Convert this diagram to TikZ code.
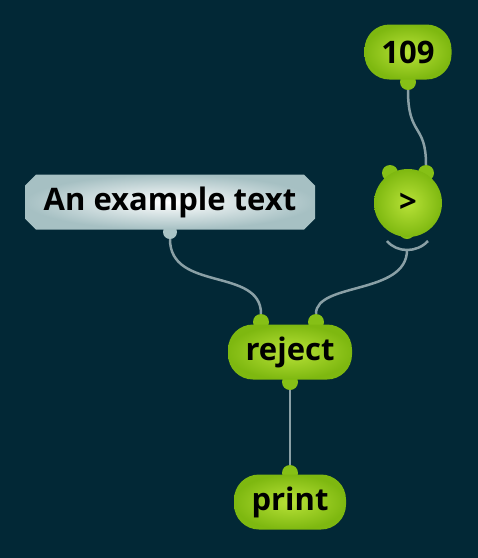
\documentclass[tikz,border=0pt]{standalone}
\usepackage{fontspec}
\setmainfont{Open Sans}
\usetikzlibrary{shapes.misc}
\definecolor{bgteal}{RGB}{2,40,54}
\definecolor{leaflo}{RGB}{126,184,16}
\definecolor{leafhi}{RGB}{184,226,56}
\definecolor{portgreen}{RGB}{134,192,22}
\definecolor{wiregray}{RGB}{138,160,166}
\definecolor{papershade}{RGB}{166,192,195}
\definecolor{portgray}{RGB}{170,196,198}
\pgfdeclarelayer{back}
\pgfdeclarelayer{wires}
\pgfsetlayers{back,wires,main}
\tikzset{
  label font/.style={font=\bfseries\fontsize{31}{33}\selectfont},
  op/.style={rectangle, rounded corners=25pt, inner color=leafhi, outer color=leaflo,
    minimum height=55pt, inner sep=0pt, label font},
  opround/.style={circle, inner color=leafhi, outer color=leaflo,
    minimum size=68pt, inner sep=0pt, label font},
  textbox/.style={chamfered rectangle, chamfered rectangle xsep=5pt, chamfered rectangle ysep=6pt,
    inner color=white, outer color=papershade, minimum width=290pt, minimum height=55pt,
    inner sep=0pt, label font},
  port/.style={circle, fill=portgreen, minimum size=16pt, inner sep=0pt},
  textport/.style={port, fill=portgray, minimum size=14pt},
  wire/.style={draw=wiregray, line width=2.5pt}
}
\begin{document}
\begin{tikzpicture}[x=1pt,y=-1pt]
  \begin{pgfonlayer}{back}
    \fill[bgteal] (0,0) rectangle (478,558);
  \end{pgfonlayer}
  % ports
  \node[port] (num-out) at (408,82) {};
  \node[port] (gt-in1) at (390,173) {};
  \node[port] (gt-in2) at (426,173) {};
  \node[port] (gt-low) at (407,231) {};
  \node[textport] (txt-out) at (170,232) {};
  \node[port] (rej-in1) at (261,322) {};
  \node[port] (rej-in2) at (316,322) {};
  \node[port] (rej-out) at (290,382) {};
  \node[port] (prt-in) at (290,473) {};
  \coordinate (gt-out) at (407,250);
  % boxes
  \node[op, minimum width=87pt] (num) at (408,52) {109};
  \node[opround] (gt) at (408,203) {>};
  \node[textbox] (txt) at (170,202) {An example text};
  \node[op, minimum width=124pt] (rej) at (290,352) {reject};
  \node[op, minimum width=112pt] (prt) at (290,502) {print};
  \begin{pgfonlayer}{wires}
    \begin{scope}[wire]
      \draw (num-out) .. controls +(0,55) and +(0,-50) .. (gt-in2);
      \draw (txt-out) .. controls +(0,60) and +(0,-55) .. (rej-in1);
      \draw (gt-out) .. controls +(0,45) and +(0,-40) .. (rej-in2);
      \draw (rej-out) -- (prt-in);
      \draw (387,241) .. controls (397,253) and (417,253) .. (428,241);
    \end{scope}
  \end{pgfonlayer}
\end{tikzpicture}
\end{document}
